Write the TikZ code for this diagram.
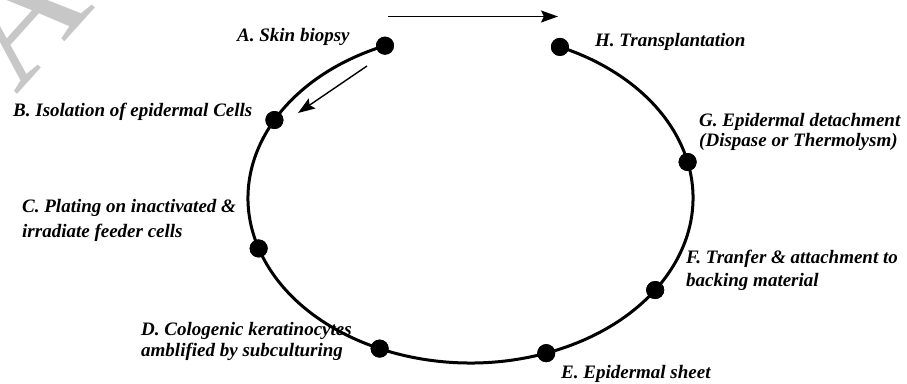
\documentclass[tikz,border=0pt]{standalone}
\usepackage{fontspec}
\setmainfont{Liberation Serif}
\usetikzlibrary{arrows.meta}
\begin{document}
\begin{tikzpicture}[x=1pt,y=1pt,
  dot/.style={circle,fill=black,draw=none,inner sep=0pt,minimum size=18pt},
  ring/.style={line width=3pt},
  arr/.style={line width=1.4pt,-{Stealth[length=17pt,width=12pt,inset=3pt]}},
  lbl/.style={inner sep=0pt,anchor=base west,align=left},
  wm/.style={inner sep=0pt,anchor=base west,text=black!22,font=\fontsize{165}{165}\selectfont}]
\useasboundingbox (0,0) rectangle (907,383);
% watermark
\begin{scope}
\clip (0,0) rectangle (907,383);
\node[wm,rotate=48] (wmA) at (16,287) {A};
\end{scope}
\coordinate (O) at (470.5,185);
% stage dots
\node[dot] (A) at ([shift={(O)}]112.6:222.5 and 165) {};
\node[dot] (B) at ([shift={(O)}]151.8:222.5 and 165) {};
\node[dot] (C) at ([shift={(O)}]197.8:222.5 and 165) {};
\node[dot] (D) at ([shift={(O)}]245.9:222.5 and 165) {};
\node[dot] (E) at ([shift={(O)}]289.9:222.5 and 165) {};
\node[dot] (F) at ([shift={(O)}]326.1:222.5 and 165) {};
\node[dot] (G) at ([shift={(O)}]372.6:222.5 and 165) {};
\node[dot] (H) at ([shift={(O)}]426.3:222.5 and 165) {};
% cycle
\draw[ring] (A.center) arc[start angle=112.6,end angle=426.3,x radius=222.5,y radius=165];
\foreach \n in {A,B,C,D,E,F,G,H} {\fill (\n) circle[radius=9pt];}
% labels
\node[lbl,font=\bfseries\itshape\fontsize{19}{23}\selectfont] (lA) at (237,341) {A. Skin biopsy};
\node[lbl,font=\bfseries\itshape\fontsize{19}{23}\selectfont] (lB) at (13,266) {B. Isolation of epidermal Cells};
\node[lbl,font=\bfseries\itshape\fontsize{19}{24.4}\selectfont] (lC) at (22,145.7) {C. Plating on inactivated \&\\irradiate feeder cells};
\node[lbl,font=\bfseries\itshape\fontsize{19}{21.7}\selectfont] (lD) at (141,26.3) {D. Cologenic keratinocytes\\amblified by subculturing};
\node[lbl,font=\bfseries\itshape\fontsize{19}{23}\selectfont] (lE) at (561,5) {E. Epidermal sheet};
\node[lbl,font=\bfseries\itshape\fontsize{19}{23.5}\selectfont] (lF) at (686,96.3) {F. Tranfer \& attachment to\\backing material};
\node[lbl,font=\bfseries\itshape\fontsize{19}{20}\selectfont] (lG) at (699,236.3) {G. Epidermal detachment\\(Dispase or Thermolysm)};
\node[lbl,font=\bfseries\itshape\fontsize{19}{23}\selectfont] (lH) at (595,336.3) {H. Transplantation};
% direction arrows
\coordinate (t1) at (388,366.5);
\coordinate (t2) at (558,366.5);
\coordinate (s1) at (367,317);
\coordinate (s2) at (298,270);
\draw[arr] (t1) -- (t2);
\draw[arr] (s1) -- (s2);
\end{tikzpicture}
\end{document}
